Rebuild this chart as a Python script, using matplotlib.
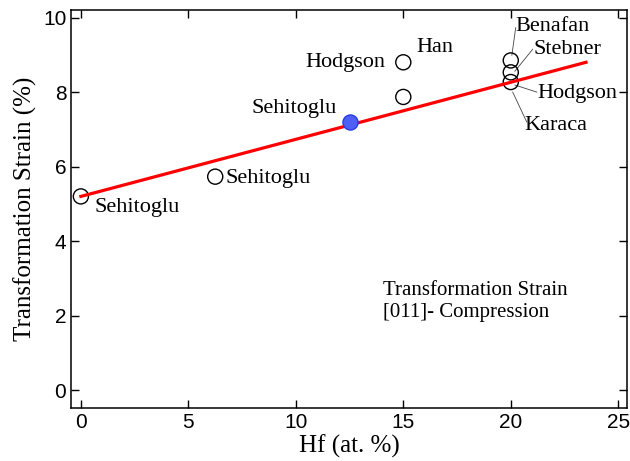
import matplotlib.pyplot as plt

# Hf content (at.%) and transformation strain (%) for each source
hf = [0, 6.25, 15, 15, 20, 20, 20]
strain = [5.2, 5.73, 7.87, 8.8, 8.85, 8.53, 8.27]
hf_new = [12.5]
strain_new = [7.2]

# linear trend
fit_x = [0, 23.5]
fit_y = [5.2, 8.8]

xticks = [0, 5, 10, 15, 20, 25]
yticks = [0, 2, 4, 6, 8, 10]

serif = 'Liberation Serif'
sans = 'Liberation Sans'

fig = plt.figure(figsize=(6.3, 4.61), dpi=100)
ax = fig.add_axes([0.113, 0.115, 0.882, 0.863])

ax.scatter(hf, strain, s=118, facecolors='none', edgecolors='black', linewidths=1.0, zorder=3)
ax.plot(fit_x, fit_y, color='red', lw=2.3, zorder=4)
ax.scatter(hf_new, strain_new, s=118, facecolors='#4d5ff5', edgecolors='#2a3ce0', linewidths=1.0, zorder=5)

ax.set_xlim(-0.45, 25.4)
ax.set_ylim(-0.48, 10.2)
ax.set_xticks(xticks)
ax.set_yticks(yticks)
ax.tick_params(direction='in', top=True, right=True, length=6, width=1, labelsize=15)
for lab in ax.get_xticklabels() + ax.get_yticklabels():
    lab.set_fontfamily(sans)
for s in ax.spines.values():
    s.set_linewidth(1.1)

ax.set_xlabel('Hf (at. %)', fontsize=18, family=serif, labelpad=2)
ax.set_ylabel('Transformation Strain (%)', fontsize=18, family=serif, labelpad=4)

fs = 16
ax.text(0.65, 4.9, 'Sehitoglu', fontsize=fs, family=serif, va='center')
ax.text(6.75, 5.68, 'Sehitoglu', fontsize=fs, family=serif, va='center')
ax.text(11.9, 7.55, 'Sehitoglu', fontsize=fs, family=serif, va='center', ha='right')
ax.text(14.15, 8.8, 'Hodgson', fontsize=fs, family=serif, va='center', ha='right')
ax.text(15.6, 9.2, 'Han', fontsize=fs, family=serif, va='center')

# labels for the cluster at 20 at.% with leader lines
cluster = [
    ('Benafan', (20.05, 8.99), (20.23, 9.73), (20.23, 9.76)),
    ('Stebner', (20.19, 8.56), (21.02, 9.15), (21.07, 9.15)),
    ('Hodgson', (20.19, 8.19), (21.21, 8.0), (21.26, 7.95)),
    ('Karaca', (20.09, 8.0), (20.74, 7.2), (20.65, 7.09)),
]
for name, p0, p1, tpos in cluster:
    ax.plot([p0[0], p1[0]], [p0[1], p1[1]], color='#444444', lw=0.6, zorder=1)
    ax.text(tpos[0], tpos[1], name, fontsize=fs, family=serif, va='center')

ax.text(14.05, 2.67, 'Transformation Strain', fontsize=15, family=serif, va='center')
ax.text(14.05, 2.08, '[011]- Compression', fontsize=15, family=serif, va='center')

fig.savefig('out.png', dpi=100)
